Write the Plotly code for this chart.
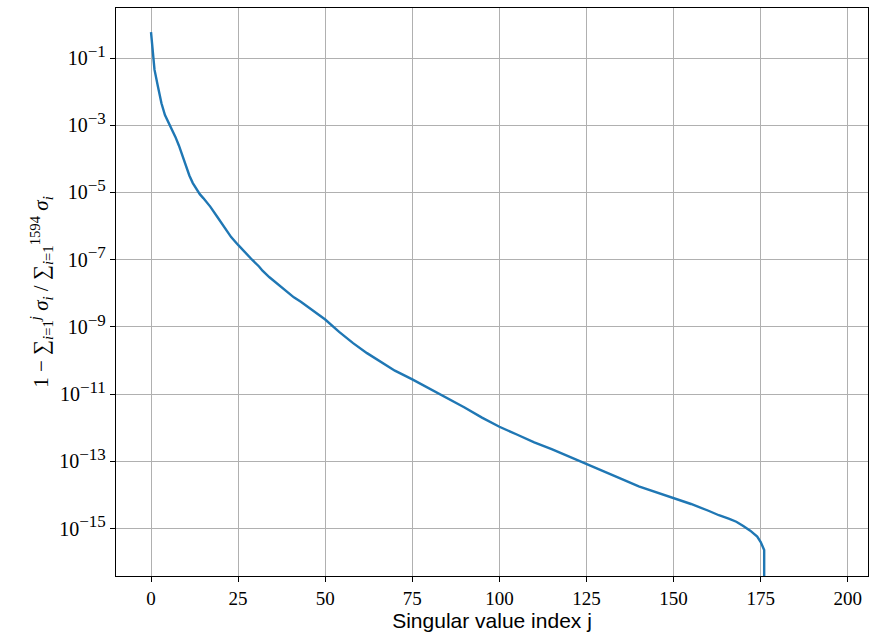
import plotly.graph_objects as go

# Singular value index j and the residual 1 - sum_{i<=j} sigma_i / sum_{i<=1594} sigma_i
index_j = [0, 1, 2, 3, 4, 5, 6, 7, 8, 9, 10, 11, 12, 13, 14, 15, 17, 19, 21, 23,
           25, 27, 29, 31, 32, 34, 36, 38, 41, 43, 46, 50, 54, 58, 62, 66, 70, 75,
           80, 85, 90, 95, 100, 105, 110, 115, 120, 125, 130, 135, 140, 145, 150,
           155, 160, 163, 166, 168, 170, 172, 174, 175, 176, 177]
residual = [5.9e-1, 4.5e-2, 1.4e-2, 4.5e-3, 2.0e-3, 1.2e-3, 7.9e-4, 4.5e-4, 2.5e-4,
            1.2e-4, 6.3e-5, 3.2e-5, 1.9e-5, 1.26e-5, 8.9e-6, 6.8e-6, 3.8e-6, 1.9e-6,
            9.5e-7, 4.7e-7, 2.75e-7, 1.6e-7, 1.0e-7, 6.3e-8, 4.7e-8, 3.0e-8, 2.0e-8,
            1.4e-8, 7.6e-9, 5.6e-9, 3.4e-9, 1.66e-9, 7.1e-10, 3.3e-10, 1.66e-10,
            9.1e-11, 5.0e-11, 2.75e-11, 1.45e-11, 7.6e-12, 4.0e-12, 2.0e-12, 1.07e-12,
            6.3e-13, 3.7e-13, 2.3e-13, 1.4e-13, 8.5e-14, 5.0e-14, 3.0e-14, 1.8e-14,
            1.2e-14, 8.3e-15, 5.4e-15, 3.4e-15, 2.5e-15, 1.95e-15, 1.6e-15, 1.2e-15,
            8.7e-16, 5.8e-16, 4.0e-16, 2.3e-16,
            1e-300]  # last entry: round-off floor (residual reaches zero)

x_ticks = [0, 25, 50, 75, 100, 125, 150, 175, 200]
y_tick_exponents = [-1, -3, -5, -7, -9, -11, -13, -15]

y_tickvals = [10.0 ** e for e in y_tick_exponents]
y_ticktext = ["10<sup><span style=\"font-size:17px\">\u2212%d</span></sup>" % (-e)
              for e in y_tick_exponents]

fig = go.Figure()
fig.add_trace(go.Scatter(
    x=index_j, y=residual, mode="lines",
    line=dict(color="#1f77b4", width=2.4),
    showlegend=False,
))

serif = "Liberation Serif, DejaVu Serif, serif"
sans = "Liberation Sans Narrow, Liberation Sans, sans-serif"

fig.update_layout(
    width=870, height=636,
    margin=dict(l=116, r=2, t=8, b=60),
    paper_bgcolor="white", plot_bgcolor="white",
    font=dict(family=serif, size=19, color="black"),
)

fig.update_xaxes(
    range=[-10.05, 205.8],
    tickvals=x_ticks,
    ticks="outside", ticklen=5, tickwidth=1, tickcolor="black",
    showline=True, linecolor="black", linewidth=1.3, mirror=True,
    showgrid=True, gridcolor="#b0b0b0", gridwidth=1,
    zeroline=False,
    tickfont=dict(family=serif, size=19),
    title=dict(text="Singular value index j",
               font=dict(family=sans, size=21),
               standoff=4),
)

fig.update_yaxes(
    type="log",
    range=[-16.41, 0.488],
    tickvals=y_tickvals, ticktext=y_ticktext,
    ticks="outside", ticklen=5, tickwidth=1, tickcolor="black",
    showline=True, linecolor="black", linewidth=1.3, mirror=True,
    showgrid=True, gridcolor="#b0b0b0", gridwidth=1,
    zeroline=False,
    tickfont=dict(family=serif, size=20),
    title=dict(
        text="1 \u2212 \u2211<sub><i>i</i>=1</sub><sup><i>j</i></sup> <i>\u03c3<sub>i</sub></i> / "
             "\u2211<sub><i>i</i>=1</sub><sup>1594</sup> <i>\u03c3<sub>i</sub></i>",
        font=dict(family=serif, size=21),
        standoff=4,
    ),
)

fig.write_html("out.html")
